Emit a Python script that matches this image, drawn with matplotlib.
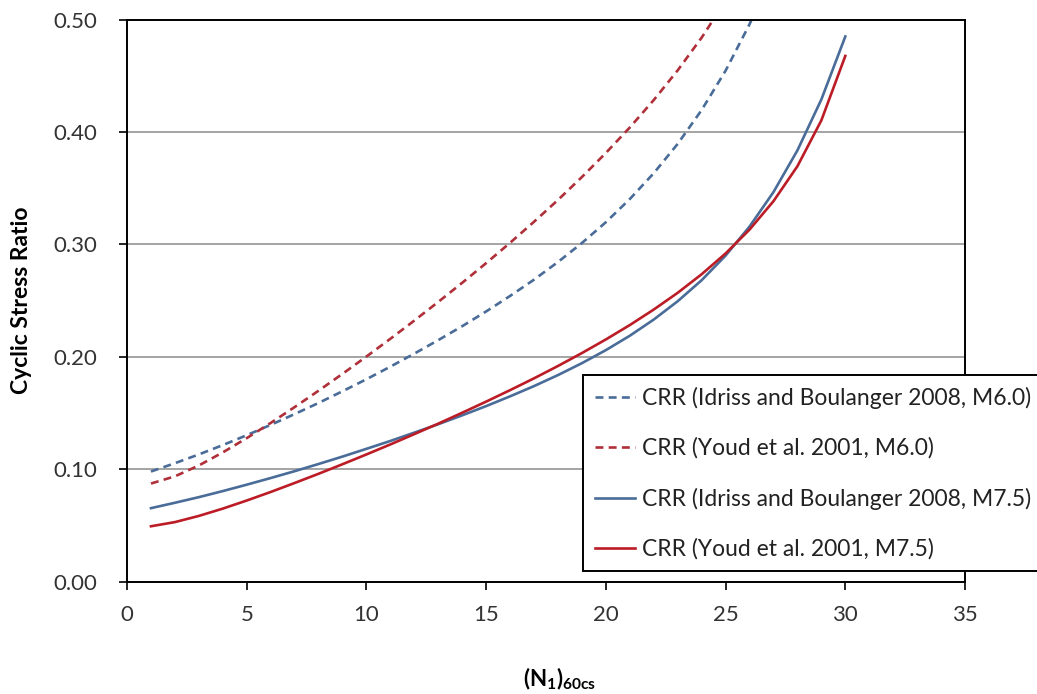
import matplotlib
matplotlib.use("Agg")
import matplotlib.pyplot as plt
from matplotlib.ticker import FormatStrFormatter

plt.rcParams['font.family'] = ['Lato', 'DejaVu Sans']
plt.rcParams['mathtext.fontset'] = 'custom'
plt.rcParams['mathtext.rm'] = 'Lato'
plt.rcParams['mathtext.bf'] = 'Lato:bold'

# (N1)60cs values
n_values = list(range(1, 31))
n_dashed_ib = list(range(1, 28))
n_dashed_youd = list(range(1, 26))

# CRR (Idriss and Boulanger 2008, M7.5)
crr_ib_m75 = [0.0653, 0.0701, 0.0751, 0.0805, 0.0862, 0.0921, 0.0982, 0.1046, 0.1112, 0.1181,
              0.1251, 0.1325, 0.1400, 0.1479, 0.1561, 0.1648, 0.1739, 0.1837, 0.1943, 0.2059,
              0.2187, 0.2331, 0.2494, 0.2681, 0.2900, 0.3158, 0.3465, 0.3836, 0.4289, 0.4849]
# CRR (Youd et al. 2001, M7.5)
crr_youd_m75 = [0.0492, 0.0529, 0.0584, 0.0649, 0.0721, 0.0797, 0.0877, 0.0959, 0.1044, 0.1131,
                0.1220, 0.1312, 0.1405, 0.1502, 0.1601, 0.1703, 0.1808, 0.1918, 0.2033, 0.2154,
                0.2282, 0.2420, 0.2569, 0.2734, 0.2919, 0.3131, 0.3384, 0.3695, 0.4103, 0.4676]
# CRR (Idriss and Boulanger 2008, M6.0)
crr_ib_m60 = [0.0979, 0.1053, 0.1131, 0.1214, 0.1302, 0.1394, 0.1490, 0.1589, 0.1693, 0.1800,
              0.1912, 0.2028, 0.2148, 0.2272, 0.2403, 0.2541, 0.2686, 0.2843, 0.3012, 0.3197,
              0.3403, 0.3633, 0.3894, 0.4195, 0.4545, 0.4958, 0.5449]
# CRR (Youd et al. 2001, M6.0)
crr_youd_m60 = [0.0872, 0.0936, 0.1033, 0.1149, 0.1276, 0.1411, 0.1552, 0.1698, 0.1848, 0.2002,
                0.2160, 0.2322, 0.2488, 0.2658, 0.2833, 0.3014, 0.3201, 0.3395, 0.3599, 0.3813,
                0.4040, 0.4284, 0.4548, 0.4839, 0.5166]

labels = ["CRR (Idriss and Boulanger 2008, M6.0)",
          "CRR (Youd et al. 2001, M6.0)",
          "CRR (Idriss and Boulanger 2008, M7.5)",
          "CRR (Youd et al. 2001, M7.5)"]

blue = '#4A6C98'
red = '#BC1C26'
red_dash = '#B0303A'

fig = plt.figure(figsize=(10.37, 6.94), dpi=100)
ax = fig.add_axes([0.1225, 0.162, 0.8081, 0.8099])

lw = 1.9
ax.plot(n_dashed_ib, crr_ib_m60, color=blue, lw=lw, dashes=(3.0, 2.0), label=labels[0])
ax.plot(n_dashed_youd, crr_youd_m60, color=red_dash, lw=lw, dashes=(3.0, 2.0), label=labels[1])
ax.plot(n_values, crr_ib_m75, color=blue, lw=lw, label=labels[2])
ax.plot(n_values, crr_youd_m75, color=red, lw=lw, label=labels[3])

ax.set_xlim(0, 35)
ax.set_ylim(0, 0.5)
ax.set_xticks(range(0, 36, 5))
ax.set_yticks([0.0, 0.1, 0.2, 0.3, 0.4, 0.5])
ax.yaxis.set_major_formatter(FormatStrFormatter('%.2f'))
ax.yaxis.grid(True, color='#8c8c8c', lw=1.1)
ax.set_axisbelow(True)

for s in ax.spines.values():
    s.set_color('black')
    s.set_linewidth(1.4)

ax.tick_params(direction='out', length=5.8, width=1.2, colors='black',
               labelcolor='#333333', labelsize=16)
ax.tick_params(axis='y', pad=16)
ax.tick_params(axis='x', pad=11)

ax.set_ylabel('Cyclic Stress Ratio', fontsize=16.5, fontweight='bold')
ax.yaxis.set_label_coords(-0.1134, 0.5)
ax.set_xlabel(r'$\mathbf{(N_1)_{60cs}}$', fontsize=16)
ax.xaxis.set_label_coords(0.5167, -0.150)

leg = ax.legend(loc='upper left', bbox_to_anchor=(0.5442, 0.3672), fontsize=16.5,
                frameon=True, fancybox=False, edgecolor='black', framealpha=1,
                handlelength=1.75, handletextpad=0.3, labelspacing=1.25,
                borderpad=0.5, borderaxespad=0)
leg.get_frame().set_linewidth(1.4)
for t in leg.get_texts():
    t.set_color('#222222')

fig.savefig('out.png', dpi=100)
